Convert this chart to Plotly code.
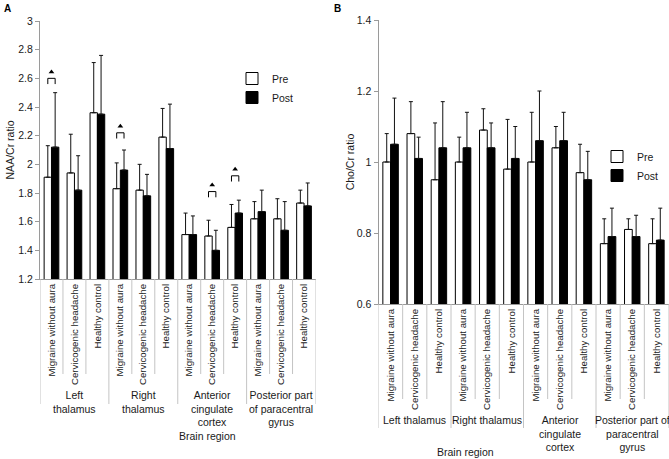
import plotly.graph_objects as go

# ---------------- data ----------------
groups = ["Migraine without aura", "Cervicogenic headache", "Healthy control"]
regions = ["Left thalamus", "Right thalamus", "Anterior cingulate cortex",
           "Posterior part of paracentral gyrus"]
region_labels_a = ["Left<br>thalamus", "Right<br>thalamus",
                   "Anterior<br>cingulate<br>cortex",
                   "Posterior part<br>of paracentral<br>gyrus"]
region_labels_b = ["Left thalamus", "Right thalamus",
                   "Anterior<br>cingulate<br>cortex",
                   "Posterior part of<br>paracentral<br>gyrus"]

# Panel A: NAA/Cr
naa_pre = [1.91, 1.94, 2.36, 1.83, 1.82, 2.19, 1.51, 1.50, 1.56, 1.62, 1.62, 1.73]
naa_pre_sd = [0.22, 0.27, 0.35, 0.18, 0.18, 0.20, 0.15, 0.11, 0.16, 0.12, 0.14, 0.09]
naa_post = [2.12, 1.82, 2.35, 1.96, 1.78, 2.11, 1.51, 1.40, 1.66, 1.67, 1.54, 1.71]
naa_post_sd = [0.38, 0.24, 0.41, 0.14, 0.15, 0.31, 0.13, 0.14, 0.09, 0.15, 0.20, 0.16]

# significance marks (index of category, bracket height)
sig_idx = [0, 3, 7, 8]
sig_y = [2.60, 2.22, 1.81, 1.92]

# Panel B: Cho/Cr
cho_pre = [1.00, 1.08, 0.95, 1.00, 1.09, 0.98, 1.00, 1.04, 0.97, 0.77, 0.81, 0.77]
cho_pre_sd = [0.08, 0.09, 0.16, 0.07, 0.06, 0.14, 0.14, 0.06, 0.08, 0.07, 0.03, 0.07]
cho_post = [1.05, 1.01, 1.04, 1.04, 1.04, 1.01, 1.06, 1.06, 0.95, 0.79, 0.79, 0.78]
cho_post_sd = [0.13, 0.06, 0.13, 0.10, 0.07, 0.09, 0.14, 0.08, 0.08, 0.08, 0.06, 0.09]

# ---------------- build ----------------
keys = [f"{r}|{g}" for r in regions for g in groups]
ticktext = [g for r in regions for g in groups]

FONT = "Liberation Sans, Arial, sans-serif"
TXT = "#1a1a1a"
AXC = "#9a9a9a"
SEPC = "#c4c4c4"
BARGAP = 0.36
FS = 10.5
FS_CAT = 9.7


def err(sd):
    return dict(type="data", array=sd, arrayminus=[0] * len(sd), symmetric=False,
                color="#111111", thickness=1, width=2)


fig = go.Figure()
fig.add_bar(x=keys, y=naa_pre, name="Pre", error_y=err(naa_pre_sd),
            marker=dict(color="white", line=dict(color="black", width=1)),
            xaxis="x", yaxis="y", legend="legend")
fig.add_bar(x=keys, y=naa_post, name="Post", error_y=err(naa_post_sd),
            marker=dict(color="black", line=dict(color="black", width=1)),
            xaxis="x", yaxis="y", legend="legend")
fig.add_bar(x=keys, y=cho_pre, name="Pre", error_y=err(cho_pre_sd),
            marker=dict(color="white", line=dict(color="black", width=1)),
            xaxis="x2", yaxis="y2", legend="legend2")
fig.add_bar(x=keys, y=cho_post, name="Post", error_y=err(cho_post_sd),
            marker=dict(color="black", line=dict(color="black", width=1)),
            xaxis="x2", yaxis="y2", legend="legend2")

# significance triangles
fig.add_scatter(x=[keys[i] for i in sig_idx], y=[v + 0.045 for v in sig_y],
                mode="markers", marker=dict(symbol="triangle-up", size=5, color="black"),
                showlegend=False, hoverinfo="skip", xaxis="x", yaxis="y")

shapes = []
half = (1 - BARGAP) / 4  # offset of bar centre from category centre
for i, v in zip(sig_idx, sig_y):
    x0, x1 = i - half, i + half
    for sx0, sy0, sx1, sy1 in [(x0, v, x1, v), (x0, v, x0, v - 0.04), (x1, v, x1, v - 0.04)]:
        shapes.append(dict(type="line", xref="x", yref="y", x0=sx0, y0=sy0, x1=sx1, y1=sy1,
                           line=dict(color="black", width=1)))

# separators below axes
def seps(xref, y_axis, y_inner, y_outer):
    out = []
    n = len(keys)
    for k in range(n + 1):
        outer = (k % len(groups) == 0)
        out.append(dict(type="line", xref=xref, yref="paper", x0=k - 0.5, x1=k - 0.5,
                        y0=y_axis, y1=y_outer if outer else y_inner,
                        line=dict(color=SEPC, width=1)))
    return out

H = 459.0
shapes += seps("x", (H - 279) / H, (H - 374) / H, (H - 404) / H)
shapes += seps("x2", (H - 304) / H, (H - 399) / H, (H - 428) / H)

annotations = []
for j, lab in enumerate(region_labels_a):
    annotations.append(dict(xref="x", yref="paper", x=keys[j * 3 + 1], y=(H - 387) / H,
                            text=lab, showarrow=False, yanchor="top", xanchor="center",
                            font=dict(size=FS, color=TXT, family=FONT)))
for j, lab in enumerate(region_labels_b):
    annotations.append(dict(xref="x2", yref="paper", x=keys[j * 3 + 1], y=(H - 412) / H,
                            text=lab, showarrow=False, yanchor="top", xanchor="center",
                            font=dict(size=FS, color=TXT, family=FONT)))
annotations += [
    dict(xref="paper", yref="paper", x=177 / 669, y=(H - 436) / H, text="Brain region",
         showarrow=False, yanchor="middle", font=dict(size=FS, color=TXT, family=FONT)),
    dict(xref="paper", yref="paper", x=496 / 669, y=(H - 452) / H, text="Brain region",
         showarrow=False, yanchor="middle", font=dict(size=FS, color=TXT, family=FONT)),
    dict(xref="paper", yref="paper", x=2 / 669, y=1 - 1 / H, text="<b>A</b>", showarrow=False,
         xanchor="left", yanchor="top", font=dict(size=10, color="black", family=FONT)),
    dict(xref="paper", yref="paper", x=332 / 669, y=1 - 1 / H, text="<b>B</b>", showarrow=False,
         xanchor="left", yanchor="top", font=dict(size=10, color="black", family=FONT)),
]

xcommon = dict(type="category", tickmode="array", tickvals=keys, ticktext=ticktext,
               tickangle=-90, showline=True, linecolor=AXC, linewidth=1, ticks="",
               showgrid=False, range=[-0.5, len(keys) - 0.5], fixedrange=True,
               automargin=False, tickfont=dict(size=FS_CAT, color=TXT, family=FONT))
ycommon = dict(showline=True, linecolor=AXC, linewidth=1, ticks="outside", ticklen=4,
               tickcolor=AXC, showgrid=False, zeroline=False, dtick=0.2, automargin=False,
               fixedrange=True, tickfont=dict(size=FS, color=TXT, family=FONT))

fig.update_layout(
    width=669, height=459,
    margin=dict(l=0, r=0, t=0, b=0, autoexpand=False),
    paper_bgcolor="white", plot_bgcolor="white",
    barmode="group", bargap=BARGAP, bargroupgap=0,
    font=dict(family=FONT, size=FS, color=TXT),
    xaxis=dict(domain=[40 / 669, 315.5 / 669], anchor="y", **xcommon),
    yaxis=dict(domain=[(H - 279) / H, (H - 21) / H], range=[1.2, 3.0], anchor="x",
               title=dict(text="NAA/Cr ratio", standoff=1,
                          font=dict(size=FS, color=TXT, family=FONT)), **ycommon),
    xaxis2=dict(domain=[378.5 / 669, 668.5 / 669], anchor="y2", **xcommon),
    yaxis2=dict(domain=[(H - 304) / H, (H - 20) / H], range=[0.6, 1.4], anchor="x2",
                title=dict(text="Cho/Cr ratio", standoff=0,
                           font=dict(size=FS, color=TXT, family=FONT)), **ycommon),
    legend=dict(x=232 / 669, y=(H - 64) / H, xanchor="left", yanchor="top",
                bgcolor="rgba(0,0,0,0)", font=dict(size=FS, color=TXT, family=FONT),
                tracegroupgap=0),
    legend2=dict(x=597 / 669, y=(H - 142) / H, xanchor="left", yanchor="top",
                 bgcolor="rgba(0,0,0,0)", font=dict(size=FS, color=TXT, family=FONT),
                 tracegroupgap=0),
    shapes=shapes,
    annotations=annotations,
    showlegend=True,
)

fig.write_html(
    "out.html",
    config={"displayModeBar": False},
    post_script="document.documentElement.style.margin='0';document.body.style.margin='0';"
                "document.body.style.overflow='hidden';",
)
